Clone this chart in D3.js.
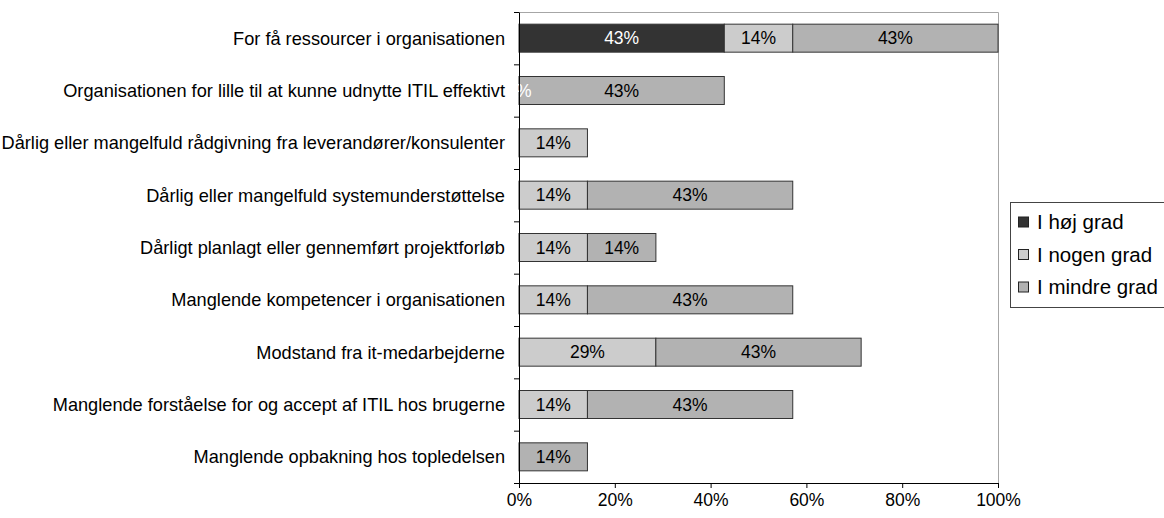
<!DOCTYPE html>
<html>
<head>
<meta charset="utf-8">
<script src="https://cdn.jsdelivr.net/npm/d3@7"></script>
<style>
  body { margin: 0; background: #fff; }
  text { font-family: "Liberation Sans", Arial, sans-serif; }
</style>
</head>
<body>
<div id="chart"></div>
<script>
// categories, top to bottom
var categories = [
  "For få ressourcer i organisationen",
  "Organisationen for lille til at kunne udnytte ITIL effektivt",
  "Dårlig eller mangelfuld rådgivning fra leverandører/konsulenter",
  "Dårlig eller mangelfuld systemunderstøttelse",
  "Dårligt planlagt eller gennemført projektforløb",
  "Manglende kompetencer i organisationen",
  "Modstand fra it-medarbejderne",
  "Manglende forståelse for og accept af ITIL hos brugerne",
  "Manglende opbakning hos topledelsen"
];
var seriesNames = ["I høj grad", "I nogen grad", "I mindre grad"];
// null = no segment / no label
var hoej   = [0.4286, 0,    null,   null,   null,   null,   null,   null,   null];
var nogen  = [0.1429, null, 0.1429, 0.1429, 0.1429, 0.1429, 0.2857, 0.1429, null];
var mindre = [0.4286, 0.4286, null, 0.4286, 0.1429, 0.4286, 0.4286, 0.4286, 0.1429];
var xTicks = [0, 0.2, 0.4, 0.6, 0.8, 1];

var colors = ["#333333", "#cccccc", "#b2b2b2"];
var labelColors = ["#ffffff", "#000000", "#000000"];

var W = 1164, H = 518;
var plot = { left: 519, right: 998, top: 12, bottom: 483 };

var svg = d3.select("#chart").append("svg")
  .attr("width", W)
  .attr("height", H);

var x = d3.scaleLinear().domain([0, 1]).range([plot.left, plot.right]);
var y = d3.scaleBand().domain(categories).range([plot.top, plot.bottom]).padding(0);
var yIdx = d3.scaleLinear().domain([0, categories.length]).range([plot.top, plot.bottom]);

// plot frame (top + right, light grey)
svg.append("path")
  .attr("d", "M" + plot.left + "," + (plot.top + 0.5) + "H" + (plot.right + 0.5) + "V" + plot.bottom)
  .attr("fill", "none")
  .attr("stroke", "#a6a6a6")
  .attr("stroke-width", 1);

// build rows
var rows = categories.map(function(c, i) {
  return { cat: c, vals: [hoej[i], nogen[i], mindre[i]] };
});

var barH = y.step() * 0.535;
var barOff = (y.step() - barH) / 2;

rows.forEach(function(r) {
  var x0 = 0;
  r.vals.forEach(function(v, k) {
    if (v === null) return;
    var g = svg.append("g");
    if (v > 0) {
      g.append("rect")
        .attr("x", x(x0))
        .attr("y", y(r.cat) + barOff)
        .attr("width", x(x0 + v) - x(x0))
        .attr("height", barH)
        .attr("fill", colors[k])
        .attr("stroke", "#333")
        .attr("stroke-width", 1);
    }
    r.seg = r.seg || [];
    r.seg.push({ x: x(x0 + v / 2), v: v, k: k });
    x0 += v;
  });
});

// category labels
svg.append("g").selectAll("text")
  .data(categories)
  .enter().append("text")
  .attr("x", plot.left - 14)
  .attr("y", function(d) { return y(d) + y.step() / 2; })
  .attr("dy", "0.35em")
  .attr("text-anchor", "end")
  .attr("font-size", "18.2px")
  .attr("fill", "#000")
  .text(function(d) { return d; });

// segment labels
var pct = d3.format(".0%");
rows.forEach(function(r) {
  (r.seg || []).forEach(function(s) {
    svg.append("text")
      .attr("x", s.x)
      .attr("y", y(r.cat) + y.step() / 2)
      .attr("dy", "0.35em")
      .attr("text-anchor", "middle")
      .attr("font-size", "17.5px")
      .attr("fill", labelColors[s.k])
      .text(pct(s.v));
  });
});

// left axis with ticks on category boundaries
var lAxis = d3.axisLeft(yIdx)
  .tickValues(d3.range(categories.length + 1))
  .tickFormat("")
  .tickSize(5)
  .tickSizeOuter(0);
var lg = svg.append("g")
  .attr("transform", "translate(" + plot.left + ",0)")
  .call(lAxis);
lg.select(".domain").attr("stroke", "#000");
lg.selectAll(".tick line").attr("stroke", "#000");

// bottom axis
var bAxis = d3.axisBottom(x)
  .tickValues(xTicks)
  .tickFormat(pct)
  .tickSize(5)
  .tickSizeOuter(0);
var bg = svg.append("g")
  .attr("transform", "translate(0," + plot.bottom + ")")
  .call(bAxis);
bg.select(".domain").attr("stroke", "#000");
bg.selectAll(".tick line").attr("stroke", "#000");
bg.selectAll(".tick text")
  .attr("font-family", "Liberation Sans, Arial, sans-serif")
  .attr("font-size", "17.5px")
  .attr("fill", "#000")
  .attr("y", 11)
  .attr("dy", "0.71em");

// legend
var leg = svg.append("g").attr("transform", "translate(1010,202)");
leg.append("rect")
  .attr("x", 0.5).attr("y", 0.5)
  .attr("width", 170).attr("height", 105)
  .attr("fill", "#fff")
  .attr("stroke", "#444");
seriesNames.forEach(function(n, i) {
  var cy = 20 + i * 32.5;
  leg.append("rect")
    .attr("x", 8.5).attr("y", cy - 5)
    .attr("width", 10).attr("height", 10)
    .attr("fill", colors[i])
    .attr("stroke", "#222");
  leg.append("text")
    .attr("x", 27)
    .attr("y", cy)
    .attr("dy", "0.35em")
    .attr("font-size", "20.5px")
    .attr("fill", "#000")
    .text(n);
});
</script>
</body>
</html>
